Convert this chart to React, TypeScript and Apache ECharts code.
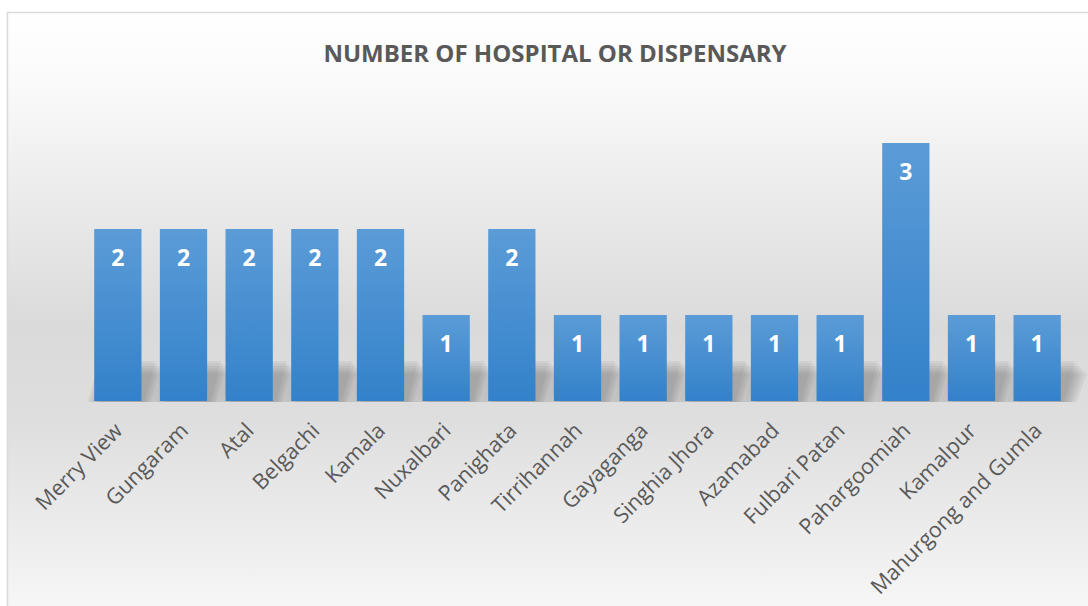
import React, { useEffect, useRef } from "react";
import * as echarts from "echarts";

const categories = [
  "Merry View", "Gungaram", "Atal", "Belgachi", "Kamala", "Nuxalbari", "Panighata",
  "Tirrihannah", "Gayaganga", "Singhia Jhora", "Azamabad", "Fulbari Patan",
  "Pahargoomiah", "Kamalpur", "Mahurgong and Gumla",
];
const values = [2, 2, 2, 2, 2, 1, 2, 1, 1, 1, 1, 1, 3, 1, 1];
const title = "NUMBER OF HOSPITAL OR DISPENSARY";

export default function App() {
  const ref = useRef<HTMLDivElement>(null);
  useEffect(() => {
    if (!ref.current) return;
    const chart = echarts.init(ref.current, null, { renderer: "svg" });
    chart.setOption({
      animation: false,
      graphic: [
        {
          type: "rect",
          z: -10,
          silent: true,
          shape: { x: 7.5, y: 12.5, width: 1200, height: 700 },
          style: {
            stroke: "#d9d9d9",
            lineWidth: 1.5,
            fill: new echarts.graphic.LinearGradient(0, 0, 0, 1, [
              { offset: 0, color: "#ffffff" },
              { offset: 0.1, color: "#fafafa" },
              { offset: 0.45, color: "#dadada" },
              { offset: 0.58, color: "#dedede" },
              { offset: 0.85, color: "#f6f6f6" },
              { offset: 1, color: "#ffffff" },
            ]),
          },
        },
      ],
      title: {
        text: title,
        left: 550,
        textAlign: "center",
        top: 35,
        textStyle: {
          fontFamily: "Open Sans",
          fontWeight: "bold",
          fontSize: 24,
          color: "#595959",
        },
      },
      grid: { left: 85, right: 18, top: 100, bottom: 205, containLabel: false },
      xAxis: {
        type: "category",
        data: categories,
        axisLine: { show: false },
        axisTick: { show: false },
        axisLabel: {
          interval: 0,
          rotate: 45,
          margin: 25,
          fontFamily: "Open Sans",
          fontSize: 21.5,
          color: "#595959",
        },
      },
      yAxis: {
        type: "value",
        min: 0,
        max: 3.5,
        show: false,
        splitLine: { show: false },
      },
      series: [
        {
          type: "custom",
          z: 1,
          silent: true,
          data: values,
          renderItem: (params: any, api: any) => {
            const idx = params.dataIndex;
            const base = api.coord([idx, 0]);
            const band = api.size([1, 0])[0];
            const w = band * 0.72;
            const x0 = base[0] - w / 2;
            const x1 = base[0] + w / 2;
            const y = base[1];
            const h = 40;
            const dx = 14;
            const children: any[] = [];
            for (let k = 0; k < 6; k++) {
              const e = k * 2.5;
              children.push({
                type: "polygon",
                shape: {
                  points: [
                    [x0 + 6 - e, y + 1],
                    [x1 + 3 + e, y + 1],
                    [x1 + dx + e, y - h + e],
                    [x0 + dx - e, y - h + e],
                  ],
                },
                style: { fill: "rgba(80,80,80,0.075)" },
              });
            }
            return { type: "group", children };
          },
        },
        {
          type: "bar",
          z: 2,
          data: values,
          barCategoryGap: "28%",
          itemStyle: {
            color: new echarts.graphic.LinearGradient(0, 0, 0, 1, [
              { offset: 0, color: "#5b9cd7" },
              { offset: 1, color: "#3381ca" },
            ]),
          },
          label: {
            show: true,
            position: "insideTop",
            distance: 16,
            fontFamily: "Open Sans",
            fontWeight: "bold",
            fontSize: 23,
            color: "#ffffff",
          },
        },
      ],
    });
    return () => chart.dispose();
  }, []);
  return (
    <div
      ref={ref}
      style={{ position: "absolute", left: 0, top: 0, width: 1088, height: 606 }}
    />
  );
}
